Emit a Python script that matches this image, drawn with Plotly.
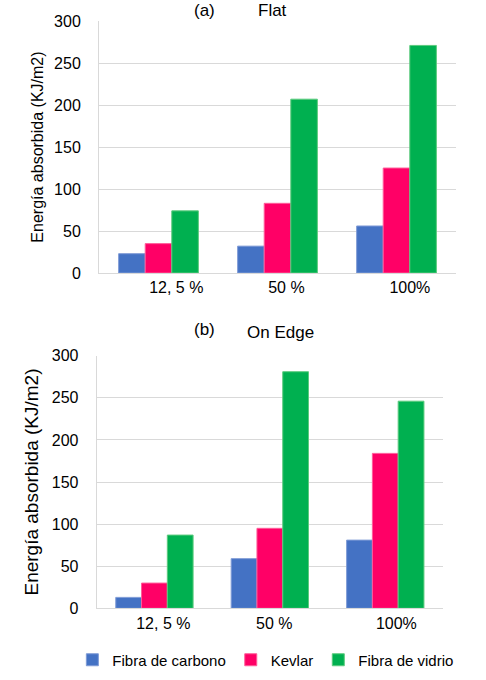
import plotly.graph_objects as go
from plotly.subplots import make_subplots

# porcentaje de fibra
categorias = ["12, 5 %", "50 %", "100%"]

# energía absorbida (KJ/m2), impacto Flat
flat_carbono = [23, 32, 56]
flat_kevlar = [35, 83, 125]
flat_vidrio = [74, 207, 271]

# energía absorbida (KJ/m2), impacto On Edge
edge_carbono = [13, 59, 81]
edge_kevlar = [30, 95, 184]
edge_vidrio = [87, 281, 246]

series = ["Fibra de carbono", "Kevlar", "Fibra de vidrio"]
colores = ["#4472C4", "#FF0066", "#00B050"]
bordes = ["#7F9BD6", "#FF5C99", "#5CCB7E"]

# etiquetas algo desplazadas a la derecha, como en el original
nb = "\u00a0"
ticks_a = [nb * 8 + categorias[0], nb * 4 + categorias[1], nb * 6 + categorias[2]]
ticks_b = [nb * 4 + categorias[0], nb * 2 + categorias[1], nb * 5 + categorias[2]]

fig = make_subplots(rows=2, cols=1)

for i, vals in enumerate([flat_carbono, flat_kevlar, flat_vidrio]):
    fig.add_trace(go.Bar(x=categorias, y=vals, name=series[i],
                         marker=dict(color=colores[i], line=dict(color=bordes[i], width=1)),
                         showlegend=False), row=1, col=1)

for i, vals in enumerate([edge_carbono, edge_kevlar, edge_vidrio]):
    fig.add_trace(go.Bar(x=categorias, y=vals, name=series[i],
                         marker=dict(color=colores[i], line=dict(color=bordes[i], width=1)),
                         showlegend=True), row=2, col=1)

fnt = "Liberation Sans, Arial, sans-serif"

fig.update_layout(
    width=486, height=680,
    margin=dict(l=0, r=0, t=0, b=0, autoexpand=False),
    paper_bgcolor="white", plot_bgcolor="white",
    barmode="group", bargap=0.33, bargroupgap=0,
    font=dict(family=fnt, size=16, color="#000000"),
    legend=dict(orientation="h", x=0.546, xanchor="center", y=0.0294, yanchor="middle",
                font=dict(size=15), itemwidth=30, traceorder="normal"),
    xaxis=dict(domain=[0.2037, 0.9383], anchor="y"),
    yaxis=dict(domain=[0.5985, 0.969], anchor="x"),
    xaxis2=dict(domain=[0.199, 0.9115], anchor="y2"),
    yaxis2=dict(domain=[0.1054, 0.4769], anchor="x2"),
)

fig.update_xaxes(showline=True, linecolor="#D9D9D9", linewidth=1, showgrid=False,
                 ticks="", tickfont=dict(size=16), automargin=False)
fig.update_xaxes(tickvals=categorias, ticktext=ticks_a, row=1, col=1)
fig.update_xaxes(tickvals=categorias, ticktext=ticks_b, row=2, col=1)

fig.update_yaxes(range=[0, 300], dtick=50, showgrid=True, gridcolor="#D9D9D9", gridwidth=1,
                 showline=True, linecolor="#D9D9D9", linewidth=1, zeroline=False,
                 ticks="", ticklabelstandoff=14, tickfont=dict(size=16), automargin=False)
fig.update_yaxes(title=dict(text="Energía absorbida (KJ/m2)", font=dict(size=16), standoff=6),
                 row=1, col=1)
fig.update_yaxes(title=dict(text="Energía absorbida (KJ/m2)", font=dict(size=19), standoff=8),
                 row=2, col=1)

# títulos de cada gráfico
fig.add_annotation(text="(a)", x=204 / 486, y=1, xref="paper", yref="paper",
                   xanchor="center", yanchor="top", showarrow=False, borderpad=0,
                   font=dict(size=17))
fig.add_annotation(text="Flat", x=272 / 486, y=1, xref="paper", yref="paper",
                   xanchor="center", yanchor="top", showarrow=False, borderpad=0,
                   font=dict(size=17))
fig.add_annotation(text="(b)", x=204 / 486, y=1 - 329 / 680, xref="paper", yref="paper",
                   xanchor="center", yanchor="middle", showarrow=False, font=dict(size=17))
fig.add_annotation(text="On Edge", x=280 / 486, y=1 - 332 / 680, xref="paper", yref="paper",
                   xanchor="center", yanchor="middle", showarrow=False, font=dict(size=17))

# sin el margen por defecto del body, para que la figura quede en (0, 0)
fig.write_html("out.html", config={"displayModeBar": False},
               post_script="document.body.style.margin = '0';")
